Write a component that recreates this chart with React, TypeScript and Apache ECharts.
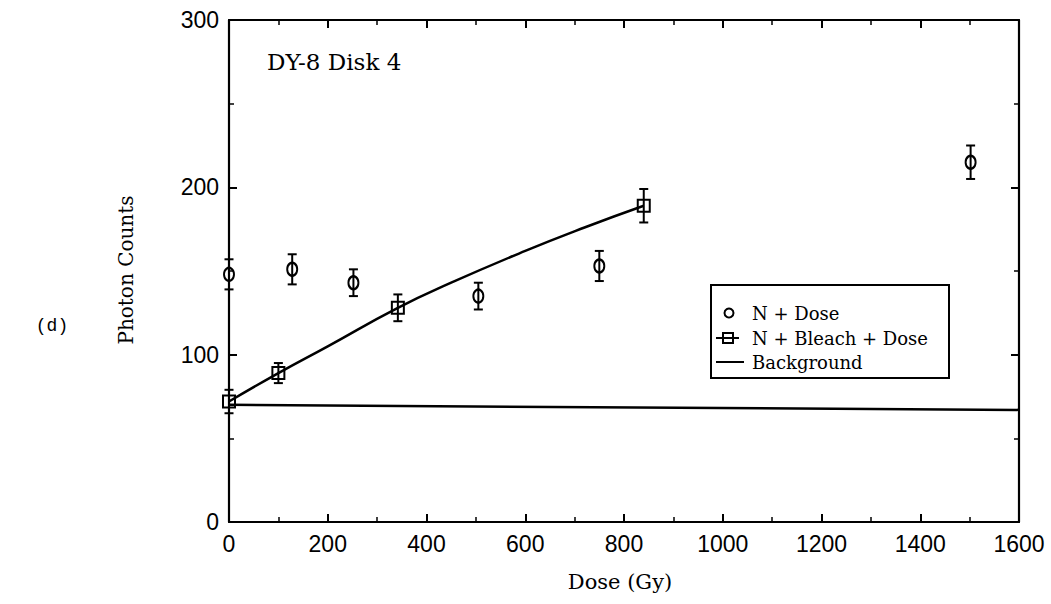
import React, { useEffect, useRef } from "react";
import * as echarts from "echarts";

const xTicks = [0, 200, 400, 600, 800, 1000, 1200, 1400, 1600];
const yTicks = [0, 100, 200, 300];

// N + Dose: [dose, counts, error]
const nDose: number[][] = [
  [0, 148, 9],
  [128, 151, 9],
  [252, 143, 8],
  [505, 135, 8],
  [750, 153, 9],
  [1502, 215, 10],
];

// N + Bleach + Dose: [dose, counts, error]
const nBleachDose: number[][] = [
  [0, 72, 7],
  [100, 89, 6],
  [342, 128, 8],
  [840, 189, 10],
];

// fitted curve through N + Bleach + Dose
const fitCurve: number[][] = [
  [0, 72],
  [100, 89],
  [200, 105],
  [342, 128],
  [450, 143],
  [600, 162],
  [720, 176],
  [840, 189],
];

const background: number[][] = [
  [0, 70],
  [1600, 67],
];

const SERIF = "DejaVu Serif";
const SANS = "Liberation Sans";

function errorBars(data: number[][]) {
  return {
    type: "custom",
    silent: true,
    data: data.map((d) => [d[0], d[1] - d[2], d[1] + d[2]]),
    encode: { x: 0, y: [1, 2] },
    renderItem: (params: any, api: any) => {
      const x = api.value(0);
      const lo = api.coord([x, api.value(1)]);
      const hi = api.coord([x, api.value(2)]);
      const w = 4.5;
      const style = { stroke: "#000", lineWidth: 2 };
      return {
        type: "group",
        children: [
          { type: "line", shape: { x1: lo[0], y1: lo[1], x2: hi[0], y2: hi[1] }, style },
          { type: "line", shape: { x1: lo[0] - w, y1: lo[1], x2: lo[0] + w, y2: lo[1] }, style },
          { type: "line", shape: { x1: hi[0] - w, y1: hi[1], x2: hi[0] + w, y2: hi[1] }, style },
        ],
      };
    },
    z: 3,
  };
}

export default function App() {
  const ref = useRef<HTMLDivElement>(null);
  useEffect(() => {
    if (!ref.current) return;
    const chart = echarts.init(ref.current, undefined, { renderer: "svg" });
    const axisLine = { show: true, onZero: false, lineStyle: { color: "#000", width: 2.2 } };
    const axisTick = { show: true, inside: true, length: 8, lineStyle: { color: "#000", width: 2 } };
    const minorTick = { show: true, splitNumber: 2, length: 5, lineStyle: { color: "#000", width: 1.5 } };
    const legX = 711;
    const legY = 285;
    chart.setOption({
      animation: false,
      backgroundColor: "#fff",
      grid: { left: 229, right: 32, top: 20, bottom: 82, show: false },
      xAxis: [
        {
          type: "value",
          min: 0,
          max: 1600,
          interval: 200,
          position: "bottom",
          axisLine,
          axisTick,
          minorTick,
          splitLine: { show: false },
          axisLabel: {
            color: "#000",
            fontFamily: SANS,
            fontSize: 23,
            margin: 10,
            formatter: (v: number) => (xTicks.includes(v) ? String(v) : ""),
          },
        },
        {
          type: "value",
          min: 0,
          max: 1600,
          interval: 200,
          position: "top",
          axisLine,
          axisTick,
          minorTick,
          splitLine: { show: false },
          axisLabel: { show: false },
        },
      ],
      yAxis: [
        {
          type: "value",
          min: 0,
          max: 300,
          interval: 100,
          position: "left",
          axisLine,
          axisTick,
          minorTick,
          splitLine: { show: false },
          axisLabel: {
            color: "#000",
            fontFamily: SANS,
            fontSize: 23,
            margin: 10,
            formatter: (v: number) => (yTicks.includes(v) ? String(v) : ""),
          },
        },
        {
          type: "value",
          min: 0,
          max: 300,
          interval: 100,
          position: "right",
          axisLine,
          axisTick,
          minorTick,
          splitLine: { show: false },
          axisLabel: { show: false },
        },
      ],
      series: [
        {
          name: "Background",
          type: "line",
          data: background,
          showSymbol: false,
          lineStyle: { color: "#000", width: 2.5 },
          z: 2,
        },
        {
          name: "Fit",
          type: "line",
          data: fitCurve,
          smooth: true,
          showSymbol: false,
          lineStyle: { color: "#000", width: 2.5 },
          z: 2,
        },
        errorBars(nDose),
        errorBars(nBleachDose),
        {
          name: "N + Dose",
          type: "scatter",
          data: nDose.map((d) => [d[0], d[1]]),
          symbol: "circle",
          symbolSize: [10, 13],
          itemStyle: { color: "rgba(255,255,255,0)", borderColor: "#000", borderWidth: 2.2, opacity: 1 },
          z: 4,
        },
        {
          name: "N + Bleach + Dose",
          type: "scatter",
          data: nBleachDose.map((d) => [d[0], d[1]]),
          symbol: "rect",
          symbolSize: 12,
          itemStyle: { color: "rgba(255,255,255,0)", borderColor: "#000", borderWidth: 2, opacity: 1 },
          z: 4,
        },
      ],
      graphic: [
        {
          type: "text",
          x: 267,
          y: 62,
          style: { text: "DY-8 Disk 4", font: `23px "${SERIF}"`, fill: "#000", verticalAlign: "middle" },
        },
        {
          type: "text",
          x: 126,
          y: 270,
          rotation: Math.PI / 2,
          style: {
            text: "Photon Counts",
            font: `20px "${SERIF}"`,
            fill: "#000",
            align: "center",
            verticalAlign: "middle",
          },
        },
        {
          type: "text",
          x: 620,
          y: 582,
          style: {
            text: "Dose (Gy)",
            font: `21px "${SERIF}"`,
            fill: "#000",
            align: "center",
            verticalAlign: "middle",
          },
        },
        {
          type: "text",
          x: 52,
          y: 326,
          style: {
            text: "(d)",
            font: `18px "Liberation Mono"`,
            fill: "#000",
            align: "center",
            verticalAlign: "middle",
          },
        },
        {
          type: "rect",
          shape: { x: legX, y: legY, width: 238, height: 93 },
          style: { fill: "#fff", stroke: "#000", lineWidth: 2 },
          z: 10,
        },
        {
          type: "circle",
          shape: { cx: legX + 18, cy: legY + 28, r: 4.5 },
          style: { fill: "#fff", stroke: "#000", lineWidth: 2 },
          z: 11,
        },
        {
          type: "text",
          x: legX + 41,
          y: legY + 28,
          style: { text: "N + Dose", font: `18px "${SERIF}"`, fill: "#000", verticalAlign: "middle" },
          z: 11,
        },
        {
          type: "line",
          shape: { x1: legX + 5, y1: legY + 53, x2: legX + 28, y2: legY + 53 },
          style: { stroke: "#000", lineWidth: 2 },
          z: 11,
        },
        {
          type: "rect",
          shape: { x: legX + 12, y: legY + 48, width: 10, height: 10 },
          style: { fill: "rgba(255,255,255,0)", stroke: "#000", lineWidth: 2 },
          z: 11,
        },
        {
          type: "text",
          x: legX + 41,
          y: legY + 53,
          style: { text: "N + Bleach + Dose", font: `18px "${SERIF}"`, fill: "#000", verticalAlign: "middle" },
          z: 11,
        },
        {
          type: "line",
          shape: { x1: legX + 5, y1: legY + 77, x2: legX + 33, y2: legY + 77 },
          style: { stroke: "#000", lineWidth: 2 },
          z: 11,
        },
        {
          type: "text",
          x: legX + 41,
          y: legY + 77,
          style: { text: "Background", font: `18px "${SERIF}"`, fill: "#000", verticalAlign: "middle" },
          z: 11,
        },
      ],
    });
    return () => chart.dispose();
  }, []);
  return <div ref={ref} style={{ width: 1051, height: 604, position: "absolute", left: 0, top: 0 }} />;
}
